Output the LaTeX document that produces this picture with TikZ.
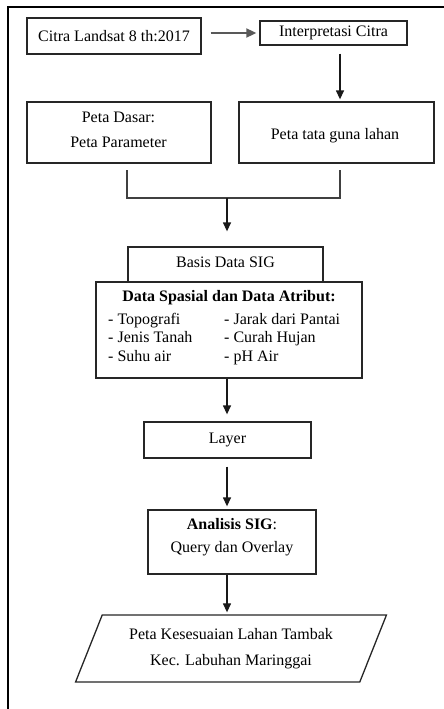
\documentclass[tikz,border=0pt]{standalone}
\usepackage{fontspec}
\setmainfont{Liberation Serif}
\usetikzlibrary{arrows.meta,shapes.geometric}
\begin{document}
\begin{tikzpicture}[x=1pt,y=-1pt,
  every node/.style={font=\fontsize{16}{18}\selectfont, inner sep=0pt},
  box/.style={draw=black!85, line width=1.3pt, fill=white},
  item/.style={anchor=west, text height=11pt, text depth=4pt},
  arr/.style={draw=black!90, line width=1.3pt, -{Triangle[length=9pt,width=8pt]}},
  line/.style={draw=black!75, line width=1.6pt}]
\useasboundingbox (0,0) rectangle (444,709);
% frame
\draw[line width=2pt] (8,709) -- (8,7) -- (444,7);
% top row
\node[box, minimum width=174pt, minimum height=36pt] (c1) at (114,36) {Citra Landsat 8 th:2017};
\node[box, minimum width=147pt, minimum height=24pt] (i1) at (333.5,33) {Interpretasi Citra};
% second row
\node[box, minimum width=184pt, minimum height=61pt] (pd) at (119,132.5) {};
\node (pd1) at (118.5,117) {Peta Dasar:};
\node (pd2) at (118.5,142) {Peta Parameter};
\node[box, minimum width=195pt, minimum height=61pt] (pt) at (336.5,132.5) {};
\node (pt1) at (335,136) {Peta tata guna lahan};
% database
\node[box, minimum width=195pt, minimum height=35pt] (bd) at (225.5,264.5) {};
\node (bd1) at (225.5,262) {Basis Data SIG};
\node[box, minimum width=266pt, minimum height=96pt] (ds) at (229,330) {};
\node (dst) at (229,298) {\textbf{Data Spasial dan Data Atribut:}};
\node[item] (l1) at (108,321) {- Topografi};
\node[item] (l2) at (108,339) {- Jenis Tanah};
\node[item] (l3) at (108,358) {- Suhu air};
\node[item] (r1) at (224,321) {- Jarak dari Pantai};
\node[item] (r2) at (224,339) {- Curah Hujan};
\node[item] (r3) at (224,358) {- pH Air};
% layer
\node[box, minimum width=167pt, minimum height=36pt] (ly) at (227.5,440) {Layer};
% analysis
\node[box, minimum width=168pt, minimum height=64pt] (an) at (232,542) {};
\node (an1) at (232,524) {\textbf{Analisis SIG}:};
\node (an2) at (232,549) {Query dan Overlay};
% output
\node[box, trapezium, trapezium stretches=true, trapezium left angle=65, trapezium right angle=115,
      inner sep=3pt, align=center, font=\fontsize{16}{26}\selectfont,
      minimum width=312pt, minimum height=67pt] (pk) at (231,648.5)
      {Peta Kesesuaian Lahan Tambak\\Kec. Labuhan Maringgai};
% connectors
\draw[arr, draw=black!65, line width=1.8pt, -{Triangle[length=10pt,width=9pt]}, shorten <=9pt, shorten >=3pt] (c1.east |- i1.west) -- (i1.west);
\draw[arr, shorten <=8pt, shorten >=2pt] ([xshift=6.5pt]i1.south) -- ([xshift=6.5pt]i1.south |- pt.north);
\coordinate (bl) at (127,170);
\coordinate (br) at (340,170);
\coordinate (bm) at (227,198);
\draw[line] (bl) -- (bl |- bm) -- (br |- bm) -- (br);
\draw[arr, shorten >=15pt] (bm) -- (bm |- bd.north);
\draw[arr, shorten >=7pt] (bm |- ds.south) -- (bm |- ly.north);
\draw[arr, shorten <=8pt, shorten >=3pt] (bm |- ly.south) -- (bm |- an.north);
\draw[arr, shorten >=2pt] (bm |- an.south) -- (bm |- pk.north);
\end{tikzpicture}
\end{document}
